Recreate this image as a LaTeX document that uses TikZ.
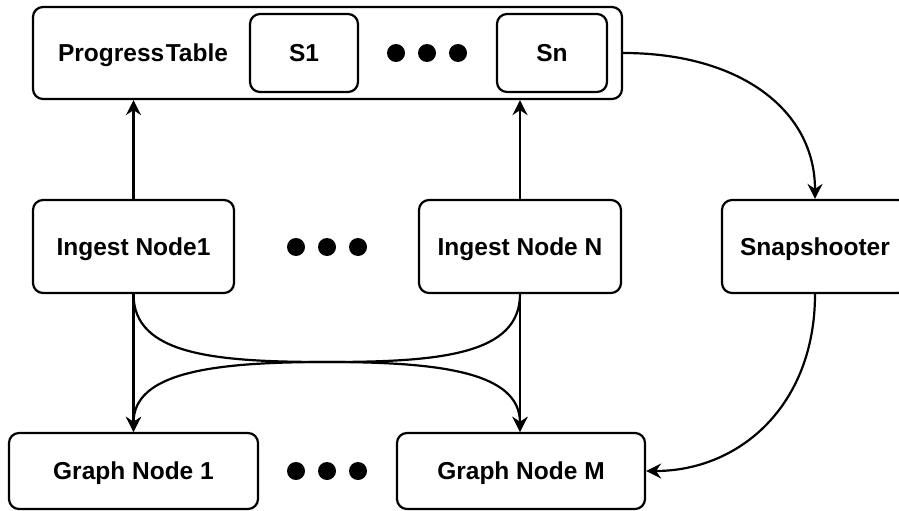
\documentclass[tikz,border=0pt]{standalone}
\usepackage{fontspec}
\setmainfont{Liberation Sans}
\usetikzlibrary{arrows.meta}
\tikzset{
  box/.style={draw, line width=2.2pt, rounded corners=10pt, inner sep=0pt, align=center, text height=17.6pt, text depth=0pt},
  lbl/.style={inner sep=0pt, text height=17.6pt, text depth=0pt},
  blob/.style={circle, fill=black, inner sep=0pt, minimum size=18pt},
  conn/.style={line width=2.2pt, -{Stealth[length=15pt,width=15pt,inset=5pt]}},
}
\begin{document}
\begin{tikzpicture}[x=1pt,y=-1pt,font=\fontsize{24.5}{29}\selectfont\bfseries]
\useasboundingbox (0,0) rectangle (899,511);
\clip (0,0) rectangle (899,511);
% top table
\node[box, minimum width=589pt, minimum height=92pt] (pt) at (327.5,53) {};
\node[lbl] (ptl) at (143,53) {{\spaceskip=1.5pt Progress Table}};
\node[box, minimum width=108pt, minimum height=78pt] (s1) at (304,53) {S1};
\node[box, minimum width=110pt, minimum height=78pt] (sn) at (552,53) {Sn};
\node[blob] (t1) at (396,53) {};
\node[blob] (t2) at (427,53) {};
\node[blob] (t3) at (458,53) {};
% ingest row
\node[box, minimum width=201pt, minimum height=93pt] (i1) at (133.5,246.5) {Ingest Node1};
\node[box, minimum width=202pt, minimum height=93pt] (in) at (520,246.5) {Ingest Node N};
\node[box, minimum width=186pt, minimum height=93pt] (sh) at (815,246.5) {Snapshooter};
\node[blob] (m1) at (296,247) {};
\node[blob] (m2) at (327,247) {};
\node[blob] (m3) at (358,247) {};
% graph row
\node[box, minimum width=249pt, minimum height=76pt] (g1) at (133.5,471) {Graph Node 1};
\node[box, minimum width=248pt, minimum height=76pt] (gm) at (521,471) {Graph Node M};
\node[blob] (b1) at (296,471) {};
\node[blob] (b2) at (327,471) {};
\node[blob] (b3) at (358,471) {};
% connectors
\draw[conn] (i1.north) -- (i1.north |- pt.south);
\draw[conn] (in.north) -- (in.north |- pt.south);
\draw[conn] (i1.south) -- (g1.north);
\draw[conn] (in.south) -- (in.south |- gm.north);
\coordinate (mid) at (327,362);
\draw[conn] (i1.south) .. controls (133.5,355) and (215,362) .. (mid)
  .. controls (440,362) and (520,372) .. (in.south |- gm.north);
\draw[conn] (in.south) .. controls (520,355) and (439,362) .. (mid)
  .. controls (214,362) and (133.5,372) .. (g1.north);
\draw[conn] (pt.east) .. controls (740,53) and (815,110) .. (sh.north);
\draw[conn] (sh.south) .. controls (815,405) and (740,471) .. (gm.east);
\end{tikzpicture}
\end{document}
